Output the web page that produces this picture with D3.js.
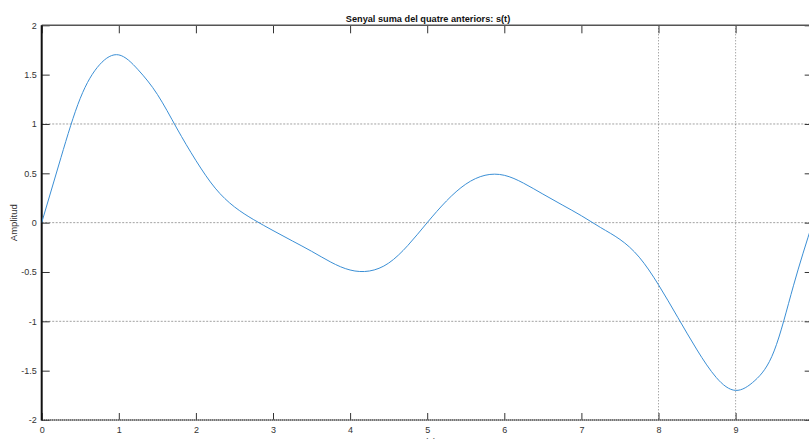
<!DOCTYPE html>
<html lang="ca">
<head>
    <meta charset="UTF-8">
    <title>Senyal suma del quatre anteriors</title>
    <script src="https://d3js.org/d3.v7.min.js"></script>
    <style>
        * { margin: 0; padding: 0; }
        body { background: #ffffff; width: 809px; height: 439px; overflow: hidden; }
        svg { display: block; font-family: "Liberation Sans", Arial, sans-serif; }
        .tick text { font-size: 9px; fill: #333; }
    </style>
</head>
<body>
    <div id="chart"></div>
    <script>
        // Values, every 0.25 s
        const timeValues = [0, 0.25, 0.5, 0.75, 1, 1.25, 1.5, 1.75, 2, 2.25,
            2.5, 2.75, 3, 3.25, 3.5, 3.75, 4, 4.25, 4.5, 4.75,
            5, 5.25, 5.5, 5.75, 6, 6.25, 6.5, 6.75, 7, 7.25,
            7.5, 7.75, 8, 8.25, 8.5, 8.75, 9, 9.25, 9.5, 9.75, 10];
        const amplitudeValues = [0, 0.66, 1.26, 1.6, 1.7, 1.55, 1.3, 0.96, 0.63, 0.35,
            0.16, 0.03, -0.08, -0.185, -0.29, -0.4, -0.48, -0.49, -0.41, -0.23,
            0, 0.22, 0.39, 0.48, 0.48, 0.4, 0.29, 0.18, 0.07, -0.05,
            -0.17, -0.35, -0.63, -0.96, -1.29, -1.57, -1.7, -1.6, -1.3, -0.64, 0];
        const xTicks = [0, 1, 2, 3, 4, 5, 6, 7, 8, 9, 10];
        const xTickLabels = ["0", "1", "2", "3", "4", "5", "6", "7", "8", "9", ""];
        const yTicks = [-2, -1.5, -1, -0.5, 0, 0.5, 1, 1.5, 2];
        const gridX = [8, 9];
        const gridY = [1, 0, -1];

        const width = 809, height = 439;
        const plotLeft = 41.7, plotRight = 812.7, plotTop = 25.3, plotBottom = 420;

        const x = d3.scaleLinear().domain([0, 10]).range([plotLeft, plotRight]);
        const y = d3.scaleLinear().domain([-2, 2]).range([plotBottom, plotTop]);

        const svg = d3.select("#chart").append("svg")
            .attr("width", width)
            .attr("height", height);

        svg.append("rect").attr("width", width).attr("height", height).attr("fill", "#fff");

        svg.append("defs").append("clipPath").attr("id", "plot-clip")
            .append("rect")
            .attr("x", plotLeft).attr("y", plotTop)
            .attr("width", plotRight - plotLeft).attr("height", plotBottom - plotTop);

        // grid lines (only some are visible in the original)
        svg.append("g").selectAll("line").data(gridY).enter().append("line")
            .attr("x1", plotLeft).attr("x2", plotRight)
            .attr("y1", d => y(d)).attr("y2", d => y(d))
            .attr("stroke", "#8a8a8a")
            .attr("stroke-width", 0.8)
            .attr("stroke-dasharray", "2,1.5");

        svg.append("g").selectAll("line").data(gridX).enter().append("line")
            .attr("x1", d => x(d)).attr("x2", d => x(d))
            .attr("y1", plotTop).attr("y2", plotBottom)
            .attr("stroke", "#666")
            .attr("stroke-width", 0.8)
            .attr("stroke-dasharray", "1,2");

        // axes
        svg.append("g")
            .attr("transform", `translate(0,${plotBottom})`)
            .call(d3.axisBottom(x).tickValues(xTicks).tickSizeInner(-7).tickSizeOuter(0)
                .tickPadding(7).tickFormat((d, i) => xTickLabels[i]))
            .call(g => g.select(".domain").remove());

        svg.append("g")
            .attr("transform", `translate(0,${plotTop})`)
            .call(d3.axisTop(x).tickValues(xTicks).tickSizeInner(-8).tickSizeOuter(0)
                .tickFormat(""))
            .call(g => g.select(".domain").remove());

        svg.append("g")
            .attr("transform", `translate(${plotLeft},0)`)
            .call(d3.axisLeft(y).tickValues(yTicks).tickSizeInner(-8).tickSizeOuter(0)
                .tickPadding(5).tickFormat(d => String(d)))
            .call(g => g.select(".domain").remove());

        svg.append("g")
            .attr("transform", `translate(${plotRight},0)`)
            .call(d3.axisRight(y).tickValues(yTicks).tickSizeInner(-8).tickSizeOuter(0)
                .tickFormat(""))
            .call(g => g.select(".domain").remove());

        svg.selectAll(".tick line").attr("stroke", "#333");

        // frame
        svg.append("line")
            .attr("x1", plotLeft).attr("x2", plotRight).attr("y1", plotTop).attr("y2", plotTop)
            .attr("stroke", "#555").attr("stroke-width", 1.4);
        svg.append("line")
            .attr("x1", plotLeft).attr("x2", plotRight).attr("y1", plotBottom).attr("y2", plotBottom)
            .attr("stroke", "#aaa").attr("stroke-width", 1);
        svg.append("line")
            .attr("x1", plotLeft).attr("x2", plotRight).attr("y1", plotBottom).attr("y2", plotBottom)
            .attr("stroke", "#222").attr("stroke-width", 1.3)
            .attr("stroke-dasharray", "1,1");
        svg.append("line")
            .attr("x1", plotLeft).attr("x2", plotLeft).attr("y1", plotTop).attr("y2", plotBottom + 0.5)
            .attr("stroke", "#111").attr("stroke-width", 2);

        // signal
        const points = timeValues.map((t, i) => [t, amplitudeValues[i]]);
        const line = d3.line()
            .x(d => x(d[0]))
            .y(d => y(d[1]))
            .curve(d3.curveNatural);

        svg.append("path")
            .datum(points)
            .attr("clip-path", "url(#plot-clip)")
            .attr("fill", "none")
            .attr("stroke", "#3b8fd5")
            .attr("stroke-width", 1)
            .attr("d", line);

        // text
        svg.append("text")
            .attr("x", 428).attr("y", 22)
            .attr("text-anchor", "middle")
            .attr("font-size", 9.2)
            .attr("font-weight", "bold")
            .attr("fill", "#111")
            .text("Senyal suma del quatre anteriors: s(t)");

        svg.append("text")
            .attr("transform", `translate(17,${y(0)}) rotate(-90)`)
            .attr("text-anchor", "middle")
            .attr("font-size", 9.5)
            .attr("fill", "#333")
            .text("Amplitud");

        svg.append("text")
            .attr("x", 428).attr("y", 445)
            .attr("text-anchor", "middle")
            .attr("font-size", 9.5)
            .attr("fill", "#333")
            .text("t (s)");
    </script>
</body>
</html>
